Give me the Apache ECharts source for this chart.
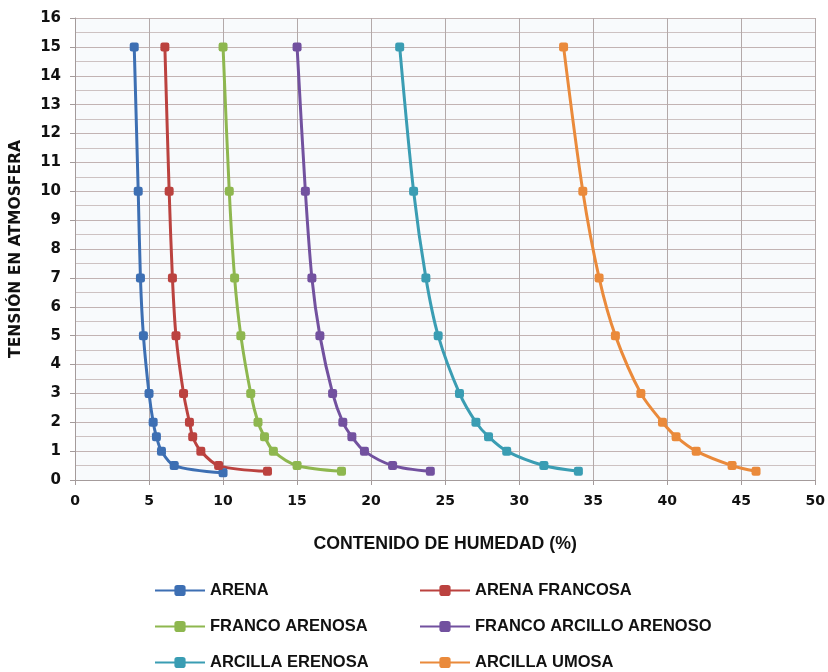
<!DOCTYPE html>
<html>
<head>
<meta charset="utf-8">
<script src="https://cdn.jsdelivr.net/npm/echarts@6/dist/echarts.min.js"></script>
<style>html,body{margin:0;padding:0;background:#fff}#c{width:828px;height:672px}</style>
</head>
<body>
<div id="c"></div>
<script>
const tension = [15, 10, 7, 5, 3, 2, 1.5, 1, 0.5, 0.3];
const arena = [4.0, 4.27, 4.42, 4.62, 5.0, 5.28, 5.5, 5.84, 6.7, 10.0];
const arenaFrancosa = [6.07, 6.36, 6.58, 6.82, 7.33, 7.73, 7.95, 8.5, 9.7, 13.0];
const francoArenosa = [10.0, 10.42, 10.78, 11.2, 11.87, 12.36, 12.8, 13.4, 15.0, 18.0];
const francoArcilloArenoso = [15.0, 15.56, 16.0, 16.54, 17.4, 18.09, 18.7, 19.55, 21.45, 24.0];
const arcillaErenosa = [21.93, 22.87, 23.7, 24.53, 25.97, 27.08, 27.93, 29.16, 31.67, 34.0];
const arcillaUmosa = [33.0, 34.3, 35.4, 36.5, 38.22, 39.68, 40.6, 41.96, 44.38, 46.0];
const lastTension = [0.25, 0.3, 0.3, 0.3, 0.3, 0.3];
const names = ['ARENA', 'ARENA FRANCOSA', 'FRANCO ARENOSA', 'FRANCO ARCILLO ARENOSO', 'ARCILLA ERENOSA', 'ARCILLA UMOSA'];
const values = [arena, arenaFrancosa, francoArenosa, francoArcilloArenoso, arcillaErenosa, arcillaUmosa];
const colors = ['#3d6fb3', '#bb423f', '#8eb74f', '#72519f', '#3a9db3', '#ea8a3b'];

const series = names.map((n, i) => ({
  name: n,
  type: 'line',
  smooth: 0.3,
  symbol: 'roundRect',
  symbolSize: 9,
  lineStyle: { width: 3, color: colors[i] },
  itemStyle: { color: colors[i] },
  data: values[i].map((x, j) => [x, j === tension.length - 1 ? lastTension[i] : tension[j]])
}));

const legendText = { fontFamily: 'Liberation Sans, sans-serif', fontWeight: 'bold', fontSize: 16.5, lineHeight: 14, color: '#111' };
const legendBase = { orient: 'vertical', top: 577, height: 120, itemWidth: 50, itemHeight: 14, itemGap: 19, textStyle: legendText };
const chart = echarts.init(document.getElementById('c'), null, { renderer: 'canvas' });
chart.setOption({
  animation: false,
  color: colors,
  grid: { left: 75, right: 11, top: 18, bottom: 192, show: true, backgroundColor: '#f8fafc', borderWidth: 0 },
  legend: [
    Object.assign({ data: [names[0], names[2], names[4]], left: 149 }, legendBase),
    Object.assign({ data: [names[1], names[3], names[5]], left: 414 }, legendBase)
  ],
  xAxis: {
    type: 'value', min: 0, max: 50, interval: 5,
    name: 'CONTENIDO DE HUMEDAD (%)', nameLocation: 'middle', nameGap: 55,
    nameTextStyle: { fontFamily: 'Liberation Sans, sans-serif', fontWeight: 'bold', fontSize: 17.7, color: '#111' },
    axisLine: { show: true, lineStyle: { color: '#a49b9b', width: 1 } },
    axisTick: { show: true, inside: false, length: 5, lineStyle: { color: '#a49b9b' } },
    axisLabel: { fontFamily: 'DejaVu Sans', fontWeight: 'bold', fontSize: 14, color: '#111', margin: 14 },
    splitLine: { show: true, lineStyle: { color: '#b3a9a9', width: 1 } }
  },
  yAxis: {
    type: 'value', min: 0, max: 16, interval: 1,
    name: 'TENSIÓN EN ATMOSFERA', nameLocation: 'middle', nameGap: 51,
    nameTextStyle: { fontFamily: 'DejaVu Sans', fontWeight: 'bold', fontSize: 15.5, color: '#111' },
    axisLine: { show: true, lineStyle: { color: '#a49b9b', width: 1 } },
    axisTick: { show: true, inside: false, length: 5, lineStyle: { color: '#a49b9b' } },
    axisLabel: { fontFamily: 'DejaVu Sans', fontWeight: 'bold', fontSize: 15, color: '#111', margin: 14 },
    splitLine: { show: true, lineStyle: { color: '#c2b3b3', width: 1 } },
    minorTick: { show: false, splitNumber: 2 },
    minorSplitLine: { show: true, lineStyle: { color: '#cdc2c2', width: 1 } }
  },
  series: series
});
</script>
</body>
</html>
